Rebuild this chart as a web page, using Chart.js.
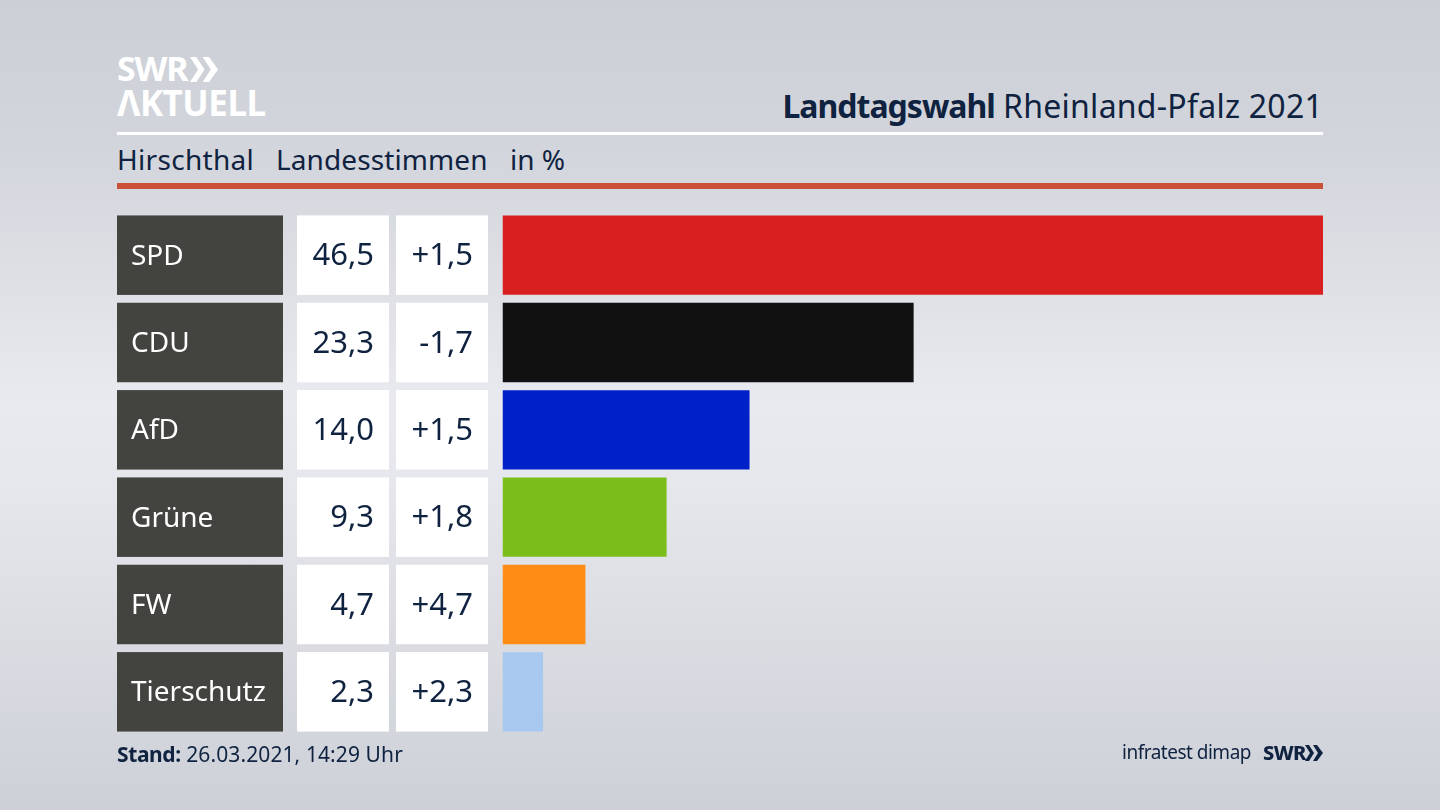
<!DOCTYPE html>
<html lang="de">
<head>
<meta charset="utf-8">
<title>Landtagswahl Rheinland-Pfalz 2021</title>
<script src="https://cdn.jsdelivr.net/npm/chart.js@4/dist/chart.umd.min.js"></script>
<style>
  html, body { margin: 0; padding: 0; }
  body {
    width: 1440px; height: 810px; position: relative; overflow: hidden;
    font-family: "Noto Sans", sans-serif; color: #0f2240;
    background: linear-gradient(180deg, #cbcfd6 0%, #d3d6dc 20%, #e9eaef 50%, #e6e7ec 60%, #cdd0d7 100%);
  }
  #wrap { position: absolute; left: 0; top: 0; width: 1440px; height: 810px; }
  .t { position: absolute; white-space: nowrap; line-height: 1; }
  .rule { position: absolute; left: 117px; width: 1206px; }
  svg { position: absolute; }
</style>
</head>
<body>
<div class="t" style="left:117px;top:51px;font:700 34px/1 'Noto Sans';color:#fff;letter-spacing:-1.2px">SWR</div>
<svg style="left:190px;top:57px" width="29" height="25" viewBox="0 0 32 25" preserveAspectRatio="none" fill="#fff">
  <path d="M0 0h7l9 12.5-9 12.5H0l9-12.5zM14 0h7l10 12.5L21 25h-7l9-12.5z"/>
</svg>
<div class="t" style="left:117px;top:85px;font:700 35px/1 'Noto Sans';color:#fff;letter-spacing:-0.5px">ΛKTUELL</div>
<div class="t" style="right:117px;top:90px;font-size:32px"><b style="letter-spacing:-1px">Landtagswahl</b> <span style="letter-spacing:.25px">Rheinland-Pfalz 2021</span></div>
<div class="rule" style="top:132px;height:3px;background:#fff"></div>
<div class="t" style="left:117px;top:145px;font-size:28px;letter-spacing:.3px">Hirschthal</div>
<div class="t" style="left:276px;top:145px;font-size:28px;letter-spacing:.1px">Landesstimmen</div>
<div class="t" style="left:510px;top:145px;font-size:28px">in %</div>
<div class="rule" style="top:183px;height:6px;background:#cb5038"></div>
<div id="wrap"><canvas id="myChart" width="1440" height="810"></canvas></div>
<div class="t" style="left:117px;top:744px;font-size:21px;letter-spacing:.1px"><b style="letter-spacing:-.4px">Stand:</b> 26.03.2021, 14:29 Uhr</div>
<div class="t" style="left:1122px;top:743px;font-size:19px;letter-spacing:-.5px">infratest dimap</div>
<div class="t" style="left:1263px;top:743px;font-size:20px;font-weight:800;letter-spacing:-.6px">SWR</div>
<svg style="left:1305px;top:745px" width="18" height="16" viewBox="0 0 18 16" fill="#0f2240">
  <path d="M0 0h4l5 8-5 8H0l5-8zM8 0h4l6 8-6 8H8l5-8z"/>
</svg>
<script>
const parties = ['SPD', 'CDU', 'AfD', 'Grüne', 'FW', 'Tierschutz'];
const shares = [46.5, 23.3, 14.0, 9.3, 4.7, 2.3];
const changes = ['+1,5', '-1,7', '+1,5', '+1,8', '+4,7', '+2,3'];
const barColors = ['#d7201f', '#111111', '#0021c9', '#7bbd1b', '#ff8c14', '#a9c8ef'];

const formatShare = v => v.toFixed(1).replace('.', ',');

// the table cells left of the bars, placed with the y scale so they line up
const tableCells = {
  id: 'tableCells',
  beforeDatasetsDraw(chart) {
    const c = chart.ctx;
    const y = chart.scales.y;
    const h = 79.5;
    c.save();
    c.textBaseline = 'middle';
    parties.forEach((name, i) => {
      const mid = y.getPixelForValue(i);
      const top = mid - h / 2;
      c.fillStyle = '#434340';
      c.fillRect(117, top, 166, h);
      c.fillStyle = '#ffffff';
      c.fillRect(297, top, 92, h);
      c.fillRect(396, top, 92, h);
      c.font = '28px "Noto Sans"';
      c.textAlign = 'left';
      c.fillText(name, 131, mid + 1.5);
      c.fillStyle = '#0f2240';
      c.font = '31px "Noto Sans"';
      c.textAlign = 'right';
      c.fillText(formatShare(shares[i]), 374, mid + 1.5);
      c.fillText(changes[i], 473, mid + 1.5);
    });
    c.restore();
  }
};

new Chart(document.getElementById('myChart').getContext('2d'), {
  type: 'bar',
  data: {
    labels: parties,
    datasets: [{
      data: shares,
      backgroundColor: barColors,
      borderWidth: 0,
      categoryPercentage: 1,
      barPercentage: 79.5 / 87.5
    }]
  },
  options: {
    indexAxis: 'y',
    responsive: false,
    animation: false,
    layout: { padding: { left: 502.5, right: 117, top: 211.5, bottom: 74.5 } },
    scales: {
      x: { display: false, min: 0, max: 46.5 },
      y: { display: false }
    },
    plugins: { legend: { display: false }, tooltip: { enabled: false } }
  },
  plugins: [tableCells]
});
</script>
</body>
</html>
